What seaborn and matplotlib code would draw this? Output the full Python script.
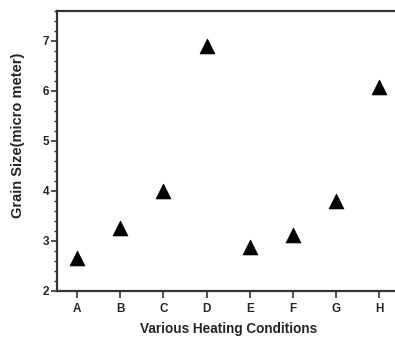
import matplotlib
matplotlib.use("Agg")
import matplotlib.pyplot as plt
import seaborn as sns
import pandas as pd
from matplotlib.ticker import MultipleLocator

conditions = ["A", "B", "C", "D", "E", "F", "G", "H"]
grain_size = [2.65, 3.26, 4.0, 6.89, 2.87, 3.12, 3.79, 6.07]

df = pd.DataFrame({"cond": conditions, "size": grain_size})

sns.set_style("white")
plt.rcParams["font.family"] = ["Liberation Sans", "DejaVu Sans"]

fig = plt.figure(figsize=(3.95, 3.37), dpi=100)
ax = fig.add_axes([0.1443, 0.1365, 0.871, 0.8309])
sns.scatterplot(data=df, x="cond", y="size", marker="^", s=115, color="black",
                edgecolor="black", linewidth=0.5, ax=ax, legend=False)

ax.set_xlim(-0.46, 7.5)
ax.set_ylim(2, 7.6)
ax.yaxis.set_major_locator(MultipleLocator(1))
ax.yaxis.set_minor_locator(MultipleLocator(0.2))
ax.set_xticks(range(len(conditions)))
ax.set_xticklabels(conditions)

for side in ["left", "top", "bottom", "right"]:
    ax.spines[side].set_linewidth(1.6)
    ax.spines[side].set_color("#333333")

ax.tick_params(axis="y", which="major", direction="out", length=4, width=1.2,
               color="#333333", labelsize=8.5, pad=1.5)
ax.tick_params(axis="x", which="major", direction="out", length=5, width=1.2,
               color="#333333", labelsize=8.5, pad=4)
ax.tick_params(axis="y", which="minor", direction="out", length=2.5, width=1,
               color="#333333", left=True)
ax.tick_params(axis="x", which="both", bottom=True, top=False)
ax.tick_params(axis="y", which="both", left=True, right=False)
for lbl in ax.get_xticklabels() + ax.get_yticklabels():
    lbl.set_fontweight("bold")

ax.set_xlabel("Various Heating Conditions", fontsize=9.8, fontweight="bold", labelpad=5)
ax.set_ylabel("Grain Size(micro meter)", fontsize=10.5, fontweight="bold",
              va="center")
ax.yaxis.set_label_coords(-0.113, 0.557)

fig.savefig("out.png", dpi=100)
